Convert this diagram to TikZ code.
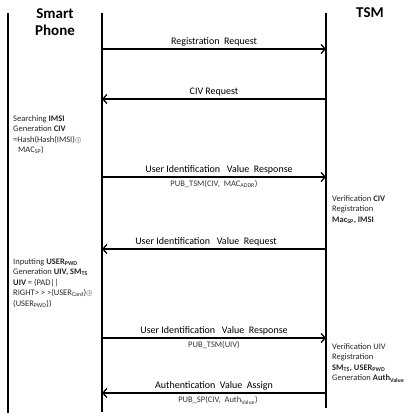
\documentclass[tikz,border=0pt]{standalone}
\usepackage{fontspec}
\setmainfont{Carlito}
\usetikzlibrary{arrows.meta,positioning}

\newcommand{\sub}[1]{\textsubscript{#1}}

\begin{document}
\begin{tikzpicture}[x=1pt,y=-1pt,
   life/.style = {line width=1.5pt},
    msg/.style = {line width=1.3pt,
                  -{Straight Barb[length=4pt,width=9pt,line width=1.3pt]}},
    lbl/.style = {above=1pt, inner sep=1pt, font=\fontsize{10}{11}\selectfont},
  param/.style = {below=2pt, inner sep=1pt, text=black!80,
                  font=\fontsize{8.5}{9}\selectfont},
   note/.style = {anchor=north west, align=left, inner sep=0pt, text=black!85,
                  font=\fontsize{8.5}{10.5}\selectfont},
  actor/.style = {align=center, font=\fontsize{15}{17}\selectfont\bfseries}]
  \useasboundingbox (0,0) rectangle (416,413);

  % actors and lifelines
  \node[actor] (sp) at (55,22) {Smart\\Phone};
  \node[actor] (tsm) at (370,13) {TSM};
  \coordinate (frame top) at (8,13);
  \coordinate (frame bot) at (8,413);
  \coordinate (sp top) at (102,13);
  \coordinate (sp bot) at (102,412);
  \coordinate (tsm top) at (326,13);
  \coordinate (tsm bot) at (326,408);
  \draw[life] (frame top) -- (frame bot);
  \draw[life] (sp top) -- (sp bot);
  \draw[life] (tsm top) -- (tsm bot);

  % message end points
  \foreach \n/\y in {1/49, 2/99, 3/177, 4/249, 5/338, 6/393} {
    \coordinate (sp\n) at (102,\y);
    \coordinate (tsm\n) at (326,\y);
  }

  % messages
  \draw[msg] (sp1) -- node[lbl] (m1) {Registration\ \ Request} (tsm1);
  \draw[msg] (tsm2) -- node[lbl] (m2) {CIV Request} (sp2);
  \draw[msg] (sp3) -- node[lbl,xshift=5pt] (m3) {User Identification\ \ \ Value\ \ Response}
                      node[param] (p3) {PUB\_TSM(CIV,\ \ MAC\sub{ADDR})} (tsm3);
  \draw[msg] (tsm4) -- node[lbl,xshift=-8pt] (m4) {User Identification\ \ \ Value\ \ Request} (sp4);
  \draw[msg] (sp5) -- node[lbl] (m5) {User Identification\ \ \ Value\ \ Response}
                      node[param] (p5) {PUB\_TSM(UIV)} (tsm5);
  \draw[msg] (tsm6) -- node[lbl] (m6) {Authentication\ \ Value\ \ Assign}
                       node[param,xshift=4pt] (p6) {PUB\_SP(CIV,\ \ Auth\sub{Value})} (sp6);

  % local processing
  \node[note] (n1) at (13,115) {Searching \textbf{IMSI}\\
    Generation \textbf{CIV}\\
    =Hash(Hash(IMSI)$\oplus$\\
    \hspace{5pt}MAC\sub{SP})};
  \node[note] (n2) at (332,195) {Verification \textbf{CIV}\\
    Registration\\
    \textbf{Mac\sub{SP}, IMSI}};
  \node[note] (n3) at (13,258) {Inputting \textbf{USER\sub{PWD}}\\
    Generation \textbf{UIV, SM\sub{TS}}\\
    \textbf{UIV} = (PAD||\\
    RIGHT> > >(USER\sub{Card})$\oplus$\\
    (USER\sub{PWD}))};
  \node[note] (n4) at (332,343) {Verification UIV\\
    Registration\\
    \textbf{SM\sub{TS}, USER\sub{PWD}}\\
    Generation \textbf{Auth\sub{Value}}};
\end{tikzpicture}
\end{document}
